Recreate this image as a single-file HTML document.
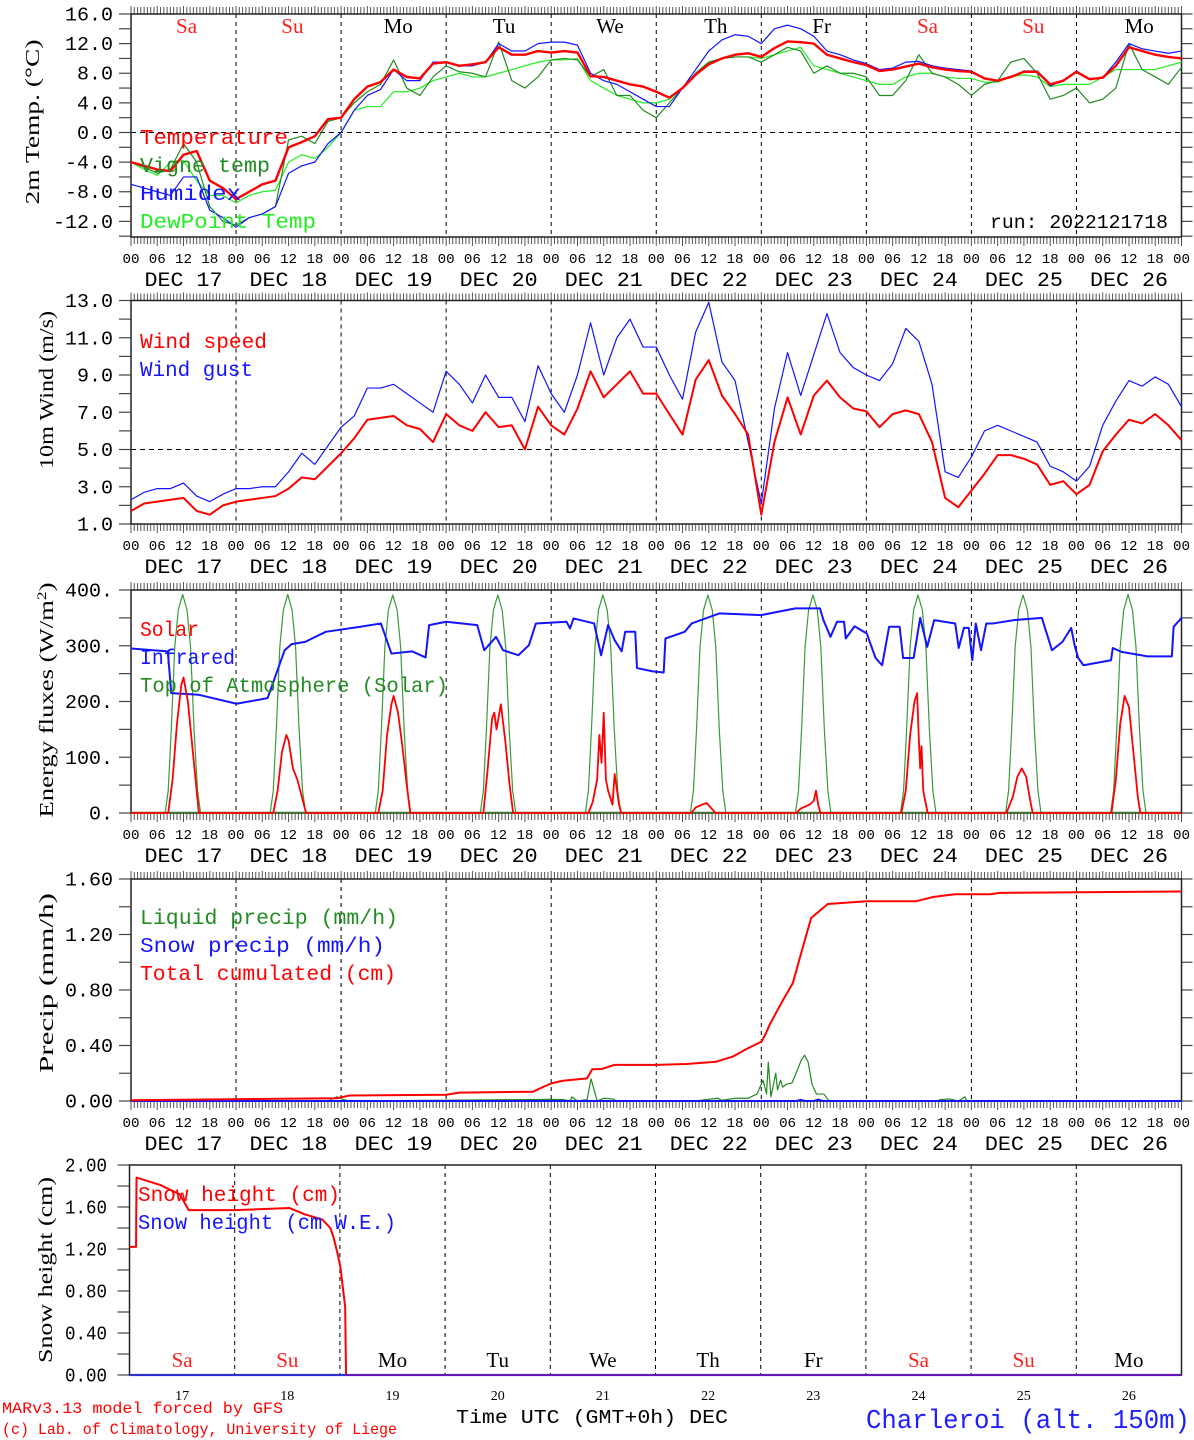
<!DOCTYPE html>
<html><head><meta charset="utf-8"><title>MAR forecast Charleroi</title>
<style>html,body{margin:0;padding:0;background:#fff;}svg{display:block;}</style></head>
<body>
<svg id="chart" xmlns="http://www.w3.org/2000/svg" width="1194" height="1440" viewBox="0 0 1194 1440"></svg>
<script>
// ---------- DATA ----------
// 3-hourly grid, hours from DEC 17 00 UTC (0..240)
const gridHours = [];
for (let i = 0; i <= 80; i++) gridHours.push(i * 3);
const tempVals = [-4,-4.5,-5,-5.2,-3,-2.5,-6.5,-7.5, -9,-8,-7,-6.5,-2,-1.3,-0.5,1.8, 2,4.5,6.2,6.8,8.5,7.5,7.3,9.3, 9.5,9,9.2,9.5,11.5,10.5,10.5,11, 10.8,11,10.8,7.6,7.5,7,6.5,6.2, 5.5,4.7,6,7.8,9.2,10,10.5,10.7, 10.2,11.4,12.3,12.2,12,10.5,10,9.5, 9.1,8.3,8.5,8.9,9.3,8.8,8.5,8.3, 8.2,7.3,7,7.5,8.2,8.2,6.5,7, 8.2,7.2,7.4,9,11.5,11,10.5,10.2, 10];
const humidexVals = [-7,-7.5,-8,-8.5,-6,-6,-10.5,-11.5, -12.8,-11.5,-11,-10,-5.5,-4.5,-4,-1.5, 0,3,5,5.8,8.5,7,7,9.5, 9.5,9,9,9.5,12,11,11,12, 12.2,12.2,11.8,8,7,6.5,5.5,4.5, 3.5,3.5,6,8.5,11,12.5,13.2,13, 12,14,14.5,14,13,11,10.5,9.8, 9.3,8.5,8.7,9.5,9.6,9,8.7,8.5, 8.3,7.3,7,7.5,8.3,8.3,6.3,7, 8.3,7.2,7.4,9.5,12,11.3,11,10.7, 11];
const vigneVals = [-4,-4.7,-5.5,-5,-1.5,-4,-10,-12, -12.5,-11.5,-11,-10,-1,-0.5,-1.5,1.5, 2,4,5.5,6.5,9.8,6,5,7.5, 9,8.2,8,7.5,12.2,7,6,7.5, 9.8,10,9.8,7.5,8.5,5,5,3, 2,4,6,8,9.5,10,10.2,10.2, 9.5,10.5,11.5,11,8,9,8,8, 7.5,5,5,7,10.5,8,7.5,6.5, 5,6.5,7,9.5,10,8,4.5,5, 6,4,4.5,6,12,8.5,7.5,6.5, 8.8];
const dewVals = [-4,-5,-5.8,-4,-3.8,-6.5,-8.5,-8.5, -9.5,-8.5,-8,-7.8,-4,-3,-3.5,-2, 0,3,3.5,3.5,5.5,5.5,6,7, 7.5,8,7.5,7.5,8,8.5,9,9.5, 9.8,9.8,10,7,6,5,4.5,4, 4,4.5,6,8,9.5,10,10.2,10.2, 10,10.5,11,11.5,9,8.5,8,7.5, 7,6.5,6.5,7.5,8,8,7.5,7.3, 7.3,6.8,6.8,7.5,7.8,7.5,6.2,6.5, 6.5,6.5,7.5,8.5,8.5,8.5,8.5,9, 9.5];
const windVals = [1.7,2.1,2.2,2.3,2.4,1.7,1.5,2.0, 2.2,2.3,2.4,2.5,2.9,3.5,3.4,4.1, 4.8,5.6,6.6,6.7,6.8,6.3,6.1,5.4, 6.9,6.3,6.0,7.0,6.2,6.3,5.0,7.3, 6.3,5.8,7.2,9.2,7.8,8.5,9.2,8.0, 8.0,6.9,5.8,8.75,9.8,7.9,6.9,5.8, 1.5,5.4,7.8,5.8,7.9,8.7,7.8,7.2, 7.05,6.2,6.9,7.1,6.9,5.4,2.4,1.9, 2.8,3.7,4.7,4.7,4.5,4.2,3.1,3.3, 2.6,3.1,4.9,5.8,6.6,6.4,6.9,6.3, 5.5];
const gustVals = [2.3,2.7,2.9,2.9,3.2,2.5,2.2,2.6, 2.9,2.9,3.0,3.0,3.8,4.8,4.2,5.2, 6.2,6.8,8.3,8.3,8.5,8.0,7.5,7.0, 9.2,8.5,7.5,9.0,7.8,7.8,6.5,9.5, 8.0,7.0,9.0,11.8,9.0,11.0,12.0,10.5, 10.5,9.0,7.7,11.3,12.9,9.7,8.7,5.4, 2.1,7.2,10.2,7.9,10.1,12.3,10.2,9.4, 9.0,8.7,9.6,11.5,10.8,8.5,3.8,3.5, 4.6,6.0,6.3,6.0,5.7,5.4,4.1,3.8, 3.3,4.1,6.3,7.6,8.7,8.4,8.9,8.5, 7.3];

const solarHours = [0,8.5,9.5,10.5,11.5,12,13,14,15,15.5, 32.5,33.5,34.5,35.5,36,37,38,39,40, 56.5,57.5,58.5,59.5,60,61,62,63,63.8, 80.5,81.5,82.5,83,83.5,84.5,85.5,86.5,87.3, 104.5,105.5,106.5,107,107.5,108,108.5,109,110,110.5,111.5,112, 128,129,130.5,131.5,133,133.5, 152,153,155,156,156.5,157,157.5, 176,177,178,179,179.6,180,180.3,180.6,181,181.5,182, 200,201.5,202.5,203.5,204.5,205.5,206, 224,225,226,227,228,229,230,230.6,240];
const solarVals = [0,0,60,160,230,243,200,120,40,0, 0,40,110,140,130,80,60,30,0, 0,40,140,195,210,180,120,50,0, 0,80,170,180,150,195,130,50,0, 0,20,60,140,90,180,60,40,15,70,15,0, 0,10,15,18,5,0, 0,8,15,22,40,15,0, 0,40,140,200,215,130,80,120,40,20,0, 0,30,65,80,65,20,0, 0,60,160,210,190,110,30,0,0];
const irHours = [0,8.4,9.2,15.5,24.1,31.2,35.1,36.7,39.8,44.5,52.4,57.1,59.5,64.2,67.3,68.1,72,79.1,80.7,83.4,85,88.5,90.9,92.5,99.5,100.3,101.1,105.8,107.4,109,110.5,112.1,112.9,115.2,115.6,119.2, 121.7,122.1,126.5,128.1,134.4,144,151.8,157.4,158.2,159.8,161.3,162.9,163.3,165.3,168.1,170.1,171.6,173.2,175.6,176.4,178.8,180.3,181.9,183.5,188.3,189.1,190.3,191.4,192.2,193,194.2,195.4,197,201.7,208.1,210.4,212.8,214.8,215.6,216.4,217.6,223.9,224.3,226.3,232.2,237.8,238.2,240];
const irVals = [295,290,215,212,196,206,292,303,307,325,334,340,286,290,279,337,343,337,292,316,292,283,301,340,343,331,349,340,283,337,310,290,325,325,260,254, 252,313,325,340,358,355,367,367,346,316,343,343,313,335,322,278,265,334,334,278,278,350,298,346,340,296,332,332,274,340,292,340,340,346,350,292,307,332,300,278,265,274,296,289,281,281,334,350];
// top-of-atmosphere: hour-of-day categories and one row of values per day
const toaDayHours = [7.8,8.5,9.2,10,10.8,11.8,12.8,13.6,14.4,15.2,15.9];
const toaDays = [0,1,2,3,4,5,6,7,8,9];
const toaVals = [
 [0,40,150,298,364,392,364,298,150,40,0],
 [0,40,150,298,364,392,364,298,150,40,0],
 [0,40,150,298,364,391,364,298,150,40,0],
 [0,40,150,298,364,391,364,298,150,40,0],
 [0,40,150,298,364,391,364,298,150,40,0],
 [0,40,150,298,364,391,364,298,150,40,0],
 [0,40,150,298,364,391,364,298,150,40,0],
 [0,40,150,298,364,391,364,298,150,40,0],
 [0,40,150,298,364,391,364,298,150,40,0],
 [0,40,150,298,364,392,364,298,150,40,0]];

const totHours = [0,47,50,72,75,91.8,96,98.7,104.2,105.4,107.5,110.4,120,126.9,133.7,137.5,140.6,144,145.1,145.9,149,151.2,153.5,155.4,159.2,168,179.4,183.2,188.2,192,196.2,198.5,240];
const totVals = [0.005,0.02,0.04,0.045,0.06,0.067,0.127,0.146,0.163,0.23,0.23,0.26,0.26,0.267,0.283,0.32,0.375,0.427,0.49,0.55,0.73,0.85,1.11,1.32,1.42,1.44,1.44,1.47,1.49,1.49,1.49,1.50,1.51];
const liqHours = [0,45,47,48.5,50,90,96,98.7,100.3,100.7,102,104.2,105.1,106.5,108,110,111,128,130,134,135,138,141,143,144.4,145.2,145.6,146.2,147.3,147.7,148.4,148.9,149.7,151,152.2,153.2,153.9,154.7,155.6,156.6,158.3,159.5,184,185,187,189,190.5,191,240];
const liqVals = [0,0,0.03,0.01,0,0.01,0.012,0.01,0,0.03,0,0.01,0.16,0,0.02,0.015,0,0,0.005,0.02,0.005,0.02,0.02,0.05,0.15,0.05,0.28,0.03,0.2,0.08,0.15,0.1,0.12,0.13,0.22,0.3,0.33,0.28,0.12,0.05,0.05,0,0,0.01,0.015,0,0.03,0,0];
const snowPrHours = [0,152,153,154,156,157,158,240];
const snowPrVals = [0,0,0.008,0,0,0.01,0,0];

const snowHHours = [0,1.5,1.6,7,11.5,13.5,24,36.5,40,44,45.8,46.5,47.5,48.1,49.2,49.4,240];
const snowHVals = [1.22,1.22,1.88,1.81,1.72,1.57,1.57,1.59,1.53,1.48,1.40,1.32,1.15,1.03,0.65,0,0];
const snowWeHours = [0,240];
const snowWeVals = [0,0];

const weekdays = ['Sa','Su','Mo','Tu','We','Th','Fr','Sa','Su','Mo'];
const dayNums = ['17','18','19','20','21','22','23','24','25','26'];
const dateLabels = ['DEC 17','DEC 18','DEC 19','DEC 20','DEC 21','DEC 22','DEC 23','DEC 24','DEC 25','DEC 26'];
const hourLabels = ['00','06','12','18'];
const p1TickVals = [16,12,8,4,0,-4,-8,-12];
const p1TickLabels = ['16.0','12.0','8.0','4.0','0.0','-4.0','-8.0','-12.0'];
const p2TickVals = [13,11,9,7,5,3,1];
const p2TickLabels = ['13.0','11.0','9.0','7.0','5.0','3.0','1.0'];
const p3TickVals = [400,300,200,100,0];
const p3TickLabels = ['400.','300.','200.','100.','0.'];
const p4TickVals = [1.6,1.2,0.8,0.4,0];
const p4TickLabels = ['1.60','1.20','0.80','0.40','0.00'];
const p5TickVals = [2,1.6,1.2,0.8,0.4,0];
const p5TickLabels = ['2.00','1.60','1.20','0.80','0.40','0.00'];

// ---------- DRAWING ----------
const svg = document.getElementById('chart');
const NS = 'http://www.w3.org/2000/svg';
const MONO = '"Liberation Mono", monospace';
const SERIF = '"Liberation Serif", serif';
function mk(tag, attrs, parent) {
  const e = document.createElementNS(NS, tag);
  for (const k in attrs) e.setAttribute(k, attrs[k]);
  (parent || svg).appendChild(e);
  return e;
}
const XR = 1181.5;
function xScale(x0) { return h => x0 + h * (XR - x0) / 240; }
function yScale(p) { return v => p.bottom - (v - p.vmin) / (p.vmax - p.vmin) * (p.bottom - p.top); }

function series(g, hours, vals, xs, ys, color, w, name) {
  const pts = hours.map((h, i) => xs(h).toFixed(2) + ',' + ys(vals[i]).toFixed(2)).join(' ');
  const e = mk('polyline', {points: pts, fill: 'none', stroke: color, 'stroke-width': w, 'stroke-linejoin': 'round'}, g);
  
  
  return e;
}
function txt(g, x, y, s, size, fam, color, anchor, len) {
  const e = mk('text', {x: x, y: y, 'font-size': size, 'font-family': fam, fill: color, 'text-anchor': anchor || 'start'}, g);
  if (len) { e.setAttribute('textLength', len); e.setAttribute('lengthAdjust', 'spacingAndGlyphs'); }
  e.textContent = s;
  return e;
}

function panel(p) {
  const g = mk('g', {});
  
  
  const xs = xScale(p.x0), ys = yScale(p);
  for (let d = 1; d < 10; d++) {
    const l = mk('line', {x1: xs(24*d), x2: xs(24*d), y1: p.top, y2: p.bottom, stroke: '#000', 'stroke-width': 1, 'stroke-dasharray': '4,4'}, g);
    
    
  }
  if (p.refLine !== undefined) {
    const l = mk('line', {x1: p.x0, x2: XR, y1: ys(p.refLine), y2: ys(p.refLine), stroke: '#000', 'stroke-width': 1, 'stroke-dasharray': '5,4'}, g);
    
    
  }
  for (let v = p.tickStart; v <= p.vmax + 1e-6; v += p.tickStep) {
    const y = ys(v);
    const t = mk('line', {x1: p.x0 - 12, x2: p.x0, y1: y, y2: y, stroke: '#444', 'stroke-width': 1.2}, g);
    
    
    if (p.rightTicks) {
      const r = mk('line', {x1: XR, x2: XR + 11, y1: y, y2: y, stroke: '#444', 'stroke-width': 1.2}, g);
      
      
    }
  }
  p.tickVals.forEach((v, i) => {
    const t = txt(g, p.labelX, ys(v) + 6.5, p.tickLabels[i], 19, MONO, '#000', 'end', p.tickLabels[i].length * p.charW);
    
    
  });
  if (p.hourTicks) {
    for (let h = 0; h <= 240.001; h += 0.75) {
      const x = xs(h);
      const major = Math.abs(h / 6 - Math.round(h / 6)) < 1e-6;
      const a = mk('line', {x1: x, x2: x, y1: p.top - (major ? 8 : 7), y2: p.top, stroke: '#555', 'stroke-width': 1}, g);
      
      
      const b = mk('line', {x1: x, x2: x, y1: p.bottom, y2: p.bottom + (major ? 9 : 7), stroke: '#555', 'stroke-width': 1}, g);
      
      
    }
    for (let i = 0; i <= 40; i++) {
      const t = txt(g, xs(i * 6), p.bottom + 26, hourLabels[i % 4], 14, MONO, '#000', 'middle', 17);
      
      
    }
    dateLabels.forEach((s, d) => {
      const t = txt(g, xs(24 * d + 12), p.bottom + 49, s, 20, MONO, '#000', 'middle', 78);
      
      
    });
  }
  const f = mk('rect', {x: p.x0, y: p.top, width: XR - p.x0, height: p.bottom - p.top, fill: 'none', stroke: '#222', 'stroke-width': 1.5}, g);
  
  
  const ti = mk('text', {x: 0, y: 0, 'font-size': 20, 'font-family': SERIF, fill: '#000', 'text-anchor': 'middle', textLength: p.titleLen, lengthAdjust: 'spacingAndGlyphs', transform: 'translate(' + p.titleX + ',' + p.titleY + ') rotate(-90)'}, g);
  ti.textContent = p.title;
  if (p.titleSup) {
    const sp = mk('tspan', {'baseline-shift': 'super', 'font-size': 13}, ti);
    sp.textContent = p.titleSup;
    ti.appendChild(document.createTextNode(')'));
  }
  
  
  return {g: g, xs: xs, ys: ys};
}

// Panel 1: temperature
const P1 = {name: 'temperature-panel', top: 14, bottom: 237, vmin: -14.11, vmax: 16, x0: 131, refLine: 0, tickStart: -14, tickStep: 2, tickVals: p1TickVals, tickLabels: p1TickLabels, labelX: 113, charW: 12, rightTicks: true, hourTicks: true, title: '2m Temp. (°C)', titleX: 39, titleY: 122, titleLen: 165};
const a1 = panel(P1);
series(a1.g, gridHours, dewVals, a1.xs, a1.ys, '#22ee22', 1.2, 'dewpoint-line');
series(a1.g, gridHours, vigneVals, a1.xs, a1.ys, '#228b22', 1.2, 'vigne-temp-line');
series(a1.g, gridHours, humidexVals, a1.xs, a1.ys, '#1414ff', 1.2, 'humidex-line');
series(a1.g, gridHours, tempVals, a1.xs, a1.ys, '#ff0000', 2.4, 'temperature-line');
weekdays.forEach((s, d) => {
  const t = txt(a1.g, a1.xs(24 * d + 12) + 3 + d * 0.8, 33, s, 21, SERIF, (s === 'Sa' || s === 'Su') ? '#ff2020' : '#000', 'middle');
  
  
});
[['Temperature', '#ff0000', 144, 148], ['Vigne temp', '#228b22', 172, 130], ['Humidex', '#1414ff', 200, 101], ['DewPoint Temp', '#22ee22', 228, 176]].forEach(r => {
  const t = txt(a1.g, 140, r[2], r[0], 21, MONO, r[1], 'start', r[3]);
  
  
});
const run = txt(a1.g, 1168, 228, 'run: 2022121718', 19, MONO, '#000', 'end', 178);



// Panel 2: wind
const P2 = {name: 'wind-panel', top: 300.5, bottom: 524, vmin: 1, vmax: 13, x0: 131, refLine: 5, tickStart: 1, tickStep: 1, tickVals: p2TickVals, tickLabels: p2TickLabels, labelX: 113, charW: 12, rightTicks: true, hourTicks: true, title: '10m Wind (m/s)', titleX: 53, titleY: 390, titleLen: 158};
const a2 = panel(P2);
series(a2.g, gridHours, gustVals, a2.xs, a2.ys, '#1414ff', 1.2, 'wind-gust-line');
series(a2.g, gridHours, windVals, a2.xs, a2.ys, '#ff0000', 2, 'wind-speed-line');
[['Wind speed', '#ff0000', 348, 127], ['Wind gust', '#1414ff', 376, 113]].forEach(r => {
  const t = txt(a2.g, 140, r[2], r[0], 21, MONO, r[1], 'start', r[3]);
  
  
});

// Panel 3: fluxes
const P3 = {name: 'energy-flux-panel', top: 590, bottom: 813, vmin: 0, vmax: 400, x0: 131, tickStart: 0, tickStep: 50, tickVals: p3TickVals, tickLabels: p3TickLabels, labelX: 113, charW: 12, rightTicks: true, hourTicks: true, title: 'Energy fluxes (W/m', titleSup: '2', titleX: 53, titleY: 700, titleLen: 235};
const a3 = panel(P3);
toaDays.forEach((d, i) => {
  const hrs = toaDayHours.map(h => 24 * d + h);
  series(a3.g, hrs, toaVals[i], a3.xs, a3.ys, '#3a9a3a', 1.2, 'toa-solar-line');
});
const toaBase = mk('line', {x1: 131, x2: XR, y1: 812.5, y2: 812.5, stroke: '#3a7a2a', 'stroke-width': 1.5}, a3.g);


series(a3.g, irHours, irVals, a3.xs, a3.ys, '#1414ff', 2, 'infrared-line');
series(a3.g, solarHours, solarVals, a3.xs, a3.ys, '#ff0000', 1.8, 'solar-line');
[['Solar', '#ff0000', 636, 59], ['Infrared', '#1414ff', 664, 95], ['Top of Atmosphere (Solar)', '#228b22', 692, 308]].forEach(r => {
  const t = txt(a3.g, 140, r[2], r[0], 21, MONO, r[1], 'start', r[3]);
  
  
});

// Panel 4: precipitation
const P4 = {name: 'precip-panel', top: 879, bottom: 1101, vmin: 0, vmax: 1.6, x0: 131, tickStart: 0, tickStep: 0.2, tickVals: p4TickVals, tickLabels: p4TickLabels, labelX: 113, charW: 12, rightTicks: true, hourTicks: true, title: 'Precip (mm/h)', titleX: 53, titleY: 983, titleLen: 180};
const a4 = panel(P4);
series(a4.g, liqHours, liqVals, a4.xs, a4.ys, '#228b22', 1.2, 'liquid-precip-line');
series(a4.g, snowPrHours, snowPrVals, a4.xs, a4.ys, '#1414ff', 2, 'snow-precip-line');
series(a4.g, totHours, totVals, a4.xs, a4.ys, '#ff0000', 2, 'total-cumulated-line');
[['Liquid precip (mm/h)', '#228b22', 924, 258], ['Snow precip (mm/h)', '#1414ff', 952, 245], ['Total cumulated (cm)', '#ff0000', 980, 256]].forEach(r => {
  const t = txt(a4.g, 140, r[2], r[0], 21, MONO, r[1], 'start', r[3]);
  
  
});

// Panel 5: snow height
const P5 = {name: 'snow-height-panel', top: 1165, bottom: 1375, vmin: 0, vmax: 2, x0: 129.5, tickStart: 0, tickStep: 0.2, tickVals: p5TickVals, tickLabels: p5TickLabels, labelX: 107, charW: 10.5, rightTicks: false, hourTicks: false, title: 'Snow height (cm)', titleX: 52, titleY: 1270, titleLen: 186};
const a5 = panel(P5);
series(a5.g, snowHHours, snowHVals, a5.xs, a5.ys, '#ff0000', 2, 'snow-height-line');
const we = series(a5.g, snowWeHours, snowWeVals, a5.xs, a5.ys, '#2020ff', 2.2, 'snow-we-line');
we.setAttribute('stroke-opacity', '0.7');
weekdays.forEach((s, d) => {
  const t = txt(a5.g, a5.xs(24 * d + 12), 1367, s, 21, SERIF, (s === 'Sa' || s === 'Su') ? '#ff2020' : '#000', 'middle');
  
  
});
dayNums.forEach((s, d) => {
  const t = txt(a5.g, a5.xs(24 * d + 12), 1400, s, 14, SERIF, '#000', 'middle');
  
  
});
[['Snow height (cm)', '#ff0000', 1201, 138, 202], ['Snow height (cm W.E.)', '#1414ff', 1229, 138, 258]].forEach(r => {
  const t = txt(a5.g, r[3], r[2], r[0], 21, MONO, r[1], 'start', r[4]);
  
  
});

// footer
const f1 = txt(svg, 2, 1413, 'MARv3.13 model forced by GFS', 16, MONO, '#ff0000', 'start', 281);


const f2 = txt(svg, 2, 1434, '(c) Lab. of Climatology, University of Liege', 16, MONO, '#ff0000', 'start', 395);


const f3 = txt(svg, 456, 1423, 'Time UTC (GMT+0h) DEC', 19, MONO, '#000', 'start', 272);


const f4 = txt(svg, 866, 1428, 'Charleroi (alt. 150m)', 27, MONO, '#2020ff', 'start', 324);


</script>
</body></html>
